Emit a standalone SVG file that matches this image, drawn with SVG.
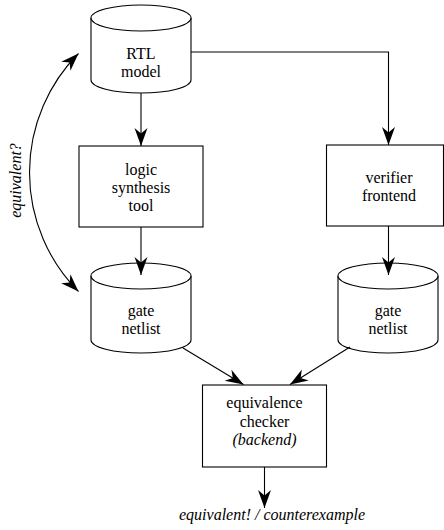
<svg xmlns="http://www.w3.org/2000/svg" width="444" height="530" viewBox="0 0 444 530">
<style>
.s{fill:#fff;stroke:#000;stroke-width:1.1}
.c{fill:none;stroke:#000;stroke-width:1.1}
text{font-family:'Liberation Serif','DejaVu Serif',serif;font-size:16px;text-anchor:middle;fill:#000}
.i{font-style:italic}
</style>
<defs>
<marker id="ah" markerUnits="userSpaceOnUse" markerWidth="20" markerHeight="16" viewBox="-19 -8 20 16" refX="0" refY="0" orient="auto-start-reverse">
<path d="M0,0 L-18,-6.5 L-12.5,0 L-18,6.5 Z" fill="#000"/>
</marker>
</defs>
<g id="rtl">
<path class="s" d="M91,18 L91,80 A50,13 0 0 0 191,80 L191,18"/>
<ellipse class="s" cx="141" cy="18" rx="50" ry="13"/>
<text x="141" y="59">RTL</text>
<text x="141" y="77">model</text>
</g>
<g id="synth">
<rect class="s" x="79" y="146" width="124" height="81"/>
<text x="141" y="175">logic</text>
<text x="141" y="193">synthesis</text>
<text x="141" y="211">tool</text>
</g>
<g id="frontend">
<rect class="s" x="326.5" y="145" width="117" height="81"/>
<text x="389" y="183">verifier</text>
<text x="389" y="201">frontend</text>
</g>
<g id="netlist1">
<path class="s" d="M91,276 L91,340 A50,13 0 0 0 191,340 L191,276"/>
<ellipse class="s" cx="141" cy="276" rx="50" ry="13"/>
<text x="141" y="316">gate</text>
<text x="141" y="334">netlist</text>
</g>
<g id="netlist2">
<path class="s" d="M338,276 L338,340 A50,13 0 0 0 438,340 L438,276"/>
<ellipse class="s" cx="388" cy="276" rx="50" ry="13"/>
<text x="388" y="316">gate</text>
<text x="388" y="334">netlist</text>
</g>
<g id="checker">
<rect class="s" x="202.5" y="385" width="124" height="82"/>
<text x="264.5" y="408">equivalence</text>
<text x="264.5" y="426.5">checker</text>
<text class="i" x="264.5" y="445">(backend)</text>
</g>
<g id="result">
<text class="i" x="272" y="520">equivalent! / counterexample</text>
</g>
<g id="equiv-label">
<text class="i" transform="translate(21,180.5) rotate(-90)">equivalent?</text>
</g>
<g id="connectors">
<path class="c" d="M141,93 L141,146" marker-end="url(#ah)"/>
<path class="c" d="M191,52 L388.5,52 L388.5,145" marker-end="url(#ah)"/>
<path class="c" d="M141,227 L141,275" marker-end="url(#ah)"/>
<path class="c" d="M388.5,226 L388.5,275" marker-end="url(#ah)"/>
<path class="c" d="M183,348 L243.5,384.5" marker-end="url(#ah)"/>
<path class="c" d="M350,347 L290,384.5" marker-end="url(#ah)"/>
<path class="c" d="M264.5,467 L264.5,508" marker-end="url(#ah)"/>
<path class="c" d="M78.5,53.5 A169,169 0 0 0 78.5,291.5" marker-start="url(#ah)" marker-end="url(#ah)"/>
</g>
</svg>
